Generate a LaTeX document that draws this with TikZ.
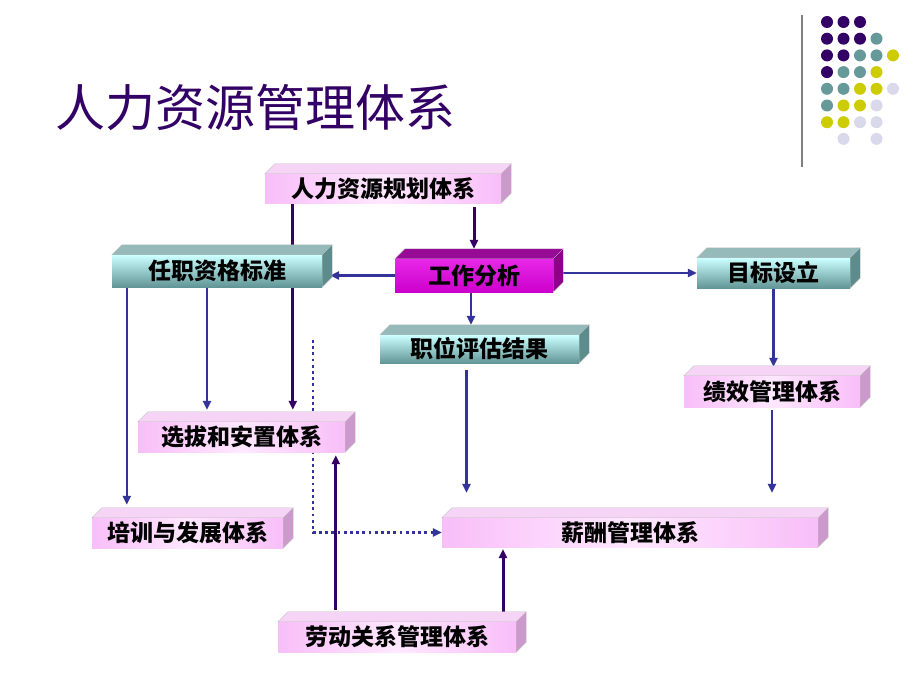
\documentclass[tikz,border=0pt]{standalone}
\usepackage{fontspec}
\newfontfamily\cjk{Noto Sans CJK SC}
\usetikzlibrary{arrows.meta}
\pgfdeclarelayer{bg}
\pgfdeclarelayer{links}
\pgfsetlayers{bg,links,main}
% colours
\definecolor{darkpurple}{RGB}{51,0,102}
\definecolor{linkblue}{RGB}{51,51,153}
\definecolor{dotP}{RGB}{51,0,102}
\definecolor{dotT}{RGB}{102,153,153}
\definecolor{dotY}{RGB}{204,204,0}
\definecolor{dotL}{RGB}{217,217,235}
\definecolor{pinkedge}{RGB}{248,190,248}
\definecolor{pinkmid}{RGB}{255,232,255}
\definecolor{pinktop}{RGB}{246,212,246}
\definecolor{pinkside}{RGB}{204,153,204}
\definecolor{tealhi}{RGB}{204,255,255}
\definecolor{teallo}{RGB}{98,150,150}
\definecolor{tealtop}{RGB}{150,186,186}
\definecolor{tealside}{RGB}{92,140,140}
\definecolor{magfront}{RGB}{204,0,204}
\definecolor{maghi}{RGB}{232,40,232}
\definecolor{magtop}{RGB}{150,10,150}
\definecolor{magside}{RGB}{140,0,140}
\tikzset{
  title/.style={font=\cjk\fontsize{50}{50}\selectfont, text=darkpurple},
  box/.style={minimum height=30pt, inner sep=0pt, font=\cjk\bfseries\fontsize{23}{23}\selectfont},
  pinkbox/.style={box, left color=pinkedge, right color=pinkedge, middle color=pinkmid},
  tealbox/.style={box, top color=tealhi, bottom color=teallo},
  magbox/.style={box, top color=maghi, bottom color=magfront},
  face/.style={draw=gray!50, line width=0.3pt},
  link/.style={line width=2.6pt, draw=linkblue, -{Triangle[length=9pt,width=8pt]}},
  mainlink/.style={link, line width=3pt, draw=darkpurple},
  dottedlink/.style={link, line width=2.8pt, dash pattern=on 2.8pt off 3.4pt},
}
\begin{document}
\begin{tikzpicture}[x=1pt, y=-1pt]
        \useasboundingbox (0,0) rectangle (920,690);
        \begin{pgfonlayer}{bg}
          \fill[white] (0,0) rectangle (920,690);
        \end{pgfonlayer}
        % title
        \node[title] (head) at (255,107) {人力资源管理体系};
        % separator and dot grid
        \draw[gray, line width=1.5pt] (802,15) -- (802,167);
        \foreach \rowcols [count=\r from 0] in {{dotP,dotP,dotP},{dotP,dotP,dotP,dotT},{dotP,dotP,dotT,dotT,dotY},{dotP,dotT,dotT,dotY},{dotT,dotT,dotY,dotY,dotL},{dotT,dotY,dotY,dotL},{dotY,dotY,dotL,dotL},{none,dotL,none,dotL}}
          \foreach \c [count=\k from 0] in \rowcols
            \fill[fill=\c] (827+16.5*\k, 22+16.7*\r) circle (6);
        % boxes
        \node[pinkbox, minimum width=236pt, minimum height=29pt] (plan)   at (383,188.5) {人力资源规划体系};
        \node[magbox,  minimum width=158pt, minimum height=33pt] (job)    at (474,275.5) {工作分析};
        \node[tealbox, minimum width=210pt, minimum height=32pt] (qual)   at (217,271)   {任职资格标准};
        \node[tealbox, minimum width=153pt]                      (goal)   at (773.5,273) {目标设立};
        \node[pinkbox, minimum width=176pt, minimum height=31pt] (perf)   at (772,391.5) {绩效管理体系};
        \node[tealbox, minimum width=199pt, minimum height=28pt] (eval)   at (479.5,349) {职位评估结果};
        \node[pinkbox, minimum width=207pt]                      (select) at (241.5,437) {选拔和安置体系};
        \node[pinkbox, minimum width=191pt]                      (train)  at (187.5,533) {培训与发展体系};
        \node[pinkbox, minimum width=376pt, minimum height=29pt] (pay)    at (630,532.5) {薪酬管理体系};
        \node[pinkbox, minimum width=238pt]                      (labor)  at (397,637)   {劳动关系管理体系};
        % top and side faces of the boxes
        \foreach \n/\tc/\sc in {plan/pinktop/pinkside, job/magtop/magside, qual/tealtop/tealside,
                                goal/tealtop/tealside, perf/pinktop/pinkside, eval/tealtop/tealside,
                                select/pinktop/pinkside, train/pinktop/pinkside, pay/pinktop/pinkside,
                                labor/pinktop/pinkside} {
          \filldraw[face, fill=\tc] (\n.north west) -- ++(10,-10) -- ([shift={(10,-10)}]\n.north east) -- (\n.north east) -- cycle;
          \filldraw[face, fill=\sc] (\n.north east) -- ++(10,-10) -- ([shift={(10,-10)}]\n.south east) -- (\n.south east) -- cycle;
        }
        % connectors, behind the boxes
        \begin{pgfonlayer}{links}
          \coordinate (dotstart) at (313,340);
          \draw[mainlink, shorten <=4pt, shorten >=10pt] (plan.south -| job.north) -- (job.north);
          \draw[mainlink, shorten >=12pt] ([xshift=28pt]plan.south west) -- ([xshift=28pt]plan.south west |- select.north);
          \draw[link, shorten >=8pt] (job.west) -- (job.west -| qual.east);
          \draw[link] (job.east |- goal.west) -- (goal.west);
          \draw[link, shorten >=10pt] ([xshift=-3pt]job.south) -- ([xshift=-3pt]job.south |- eval.north);
          \draw[link, shorten >=13pt] ([xshift=15pt]qual.south west) -- ([xshift=15pt]qual.south west |- train.north);
          \draw[link, shorten >=12pt] ([xshift=-10pt]qual.south) -- ([xshift=-10pt]qual.south |- select.north);
          \draw[link, shorten <=7pt, shorten >=25pt] ([xshift=-13pt]eval.south) -- ([xshift=-13pt]eval.south |- pay.north);
          \draw[link, shorten <=3pt, shorten >=25pt] (perf.south) -- (perf.south |- pay.north);
          \draw[link, shorten >=9pt] (goal.south) -- (goal.south |- perf.north);
          \draw[dottedlink] (dotstart) |- (pay.west);
          \draw[mainlink, shorten <=12pt, shorten >=3pt] ([xshift=58pt]labor.north west) -- ([xshift=58pt]labor.north west |- select.south);
          \draw[mainlink, shorten <=10pt, shorten >=2pt] ([xshift=106pt]labor.north) -- ([xshift=106pt]labor.north |- pay.south);
        \end{pgfonlayer}
\end{tikzpicture}
\end{document}
